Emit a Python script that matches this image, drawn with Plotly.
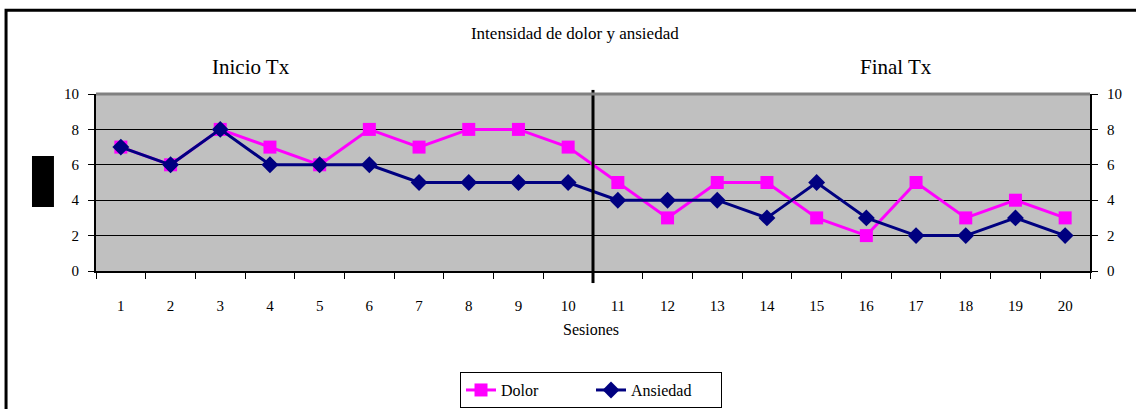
#!/usr/bin/env python3
"""Line chart of pain and anxiety intensity per session (Excel style)."""
import plotly.graph_objects as go

sesiones = [str(i) for i in range(1, 21)]
dolor = [7, 6, 8, 7, 6, 8, 7, 8, 8, 7, 5, 3, 5, 5, 3, 2, 5, 3, 4, 3]
ansiedad = [7, 6, 8, 6, 6, 6, 5, 5, 5, 5, 4, 4, 4, 3, 5, 3, 2, 2, 3, 2]
sesiones_inicio = 10
y_ticks = [0, 2, 4, 6, 8, 10]

SERIF = "Liberation Serif"


def main():
    n = len(sesiones)
    fig = go.Figure()

    fig.add_trace(go.Scatter(
        x=sesiones, y=dolor, name="Dolor", mode="lines+markers",
        line=dict(color="#FF00FF", width=3),
        marker=dict(symbol="square", size=13, color="#FF00FF"),
    ))
    fig.add_trace(go.Scatter(
        x=sesiones, y=ansiedad, name="Ansiedad", mode="lines+markers",
        line=dict(color="#000080", width=3),
        marker=dict(symbol="diamond", size=13, color="#000080"),
    ))
    # invisible trace so the right axis is drawn
    fig.add_trace(go.Scatter(
        x=sesiones, y=dolor, yaxis="y2", mode="lines",
        line=dict(width=0), hoverinfo="skip", showlegend=False, opacity=0,
    ))

    # division between "Inicio Tx" and "Final Tx"
    fig.add_shape(
        type="line", xref="x", yref="paper",
        x0=sesiones_inicio - 0.5, x1=sesiones_inicio - 0.5, y0=-0.068, y1=1.023,
        line=dict(color="black", width=3),
    )
    # top edge of the plot area
    fig.add_shape(
        type="line", xref="paper", yref="paper", x0=0, x1=1, y0=1, y1=1,
        line=dict(color="#808080", width=3),
    )
    # black block where the y axis title was
    fig.add_shape(
        type="rect", xref="paper", yref="paper",
        x0=-0.0644, x1=-0.0423, y0=0.362, y1=0.65,
        fillcolor="black", line=dict(width=0),
    )
    # outer chart border
    fig.add_shape(
        type="rect", xref="paper", yref="paper",
        x0=-0.0905, x1=1.06, y0=-0.85, y1=1.473,
        line=dict(color="black", width=3), fillcolor="rgba(0,0,0,0)",
    )

    fig.add_annotation(text="Inicio Tx", xref="paper", yref="paper",
                       x=0.156, y=1.153, xanchor="center", yanchor="middle",
                       showarrow=False,
                       font=dict(family=SERIF, size=21, color="black"))
    fig.add_annotation(text="Final Tx", xref="paper", yref="paper",
                       x=0.805, y=1.153, xanchor="center", yanchor="middle",
                       showarrow=False,
                       font=dict(family=SERIF, size=21, color="black"))
    fig.add_annotation(text="Sesiones", xref="paper", yref="paper",
                       x=0.498, y=-0.333, xanchor="center", yanchor="middle",
                       showarrow=False,
                       font=dict(family=SERIF, size=16, color="black"))

    axis_font = dict(family=SERIF, size=15, color="black")
    fig.update_layout(
        width=1136, height=409,
        margin=dict(l=96, r=46, t=94, b=138, autoexpand=False),
        paper_bgcolor="white", plot_bgcolor="#C0C0C0",
        title=dict(text="Intensidad de dolor y ansiedad", x=0.506, y=0.919,
                   xanchor="center", yanchor="middle",
                   font=dict(family=SERIF, size=17, color="black")),
        font=dict(family=SERIF, color="black"),
        xaxis=dict(
            type="category", range=[-0.5, n - 0.5], tickson="boundaries",
            ticks="outside", ticklen=6, tickcolor="black", showgrid=False,
            showline=True, linecolor="black", linewidth=2, tickfont=axis_font,
            ticklabelstandoff=20, zeroline=False, automargin=False,
        ),
        xaxis3=dict(
            overlaying="x", range=[0, n], tick0=0, dtick=1, ticks="inside",
            ticklen=5, tickcolor="black", showticklabels=False,
            showgrid=False, zeroline=False, showline=False, automargin=False,
        ),
        yaxis=dict(
            range=[0, 10], tickvals=y_ticks, ticks="outside", ticklen=6,
            tickcolor="black", showgrid=True, gridcolor="black", gridwidth=1,
            showline=True, linecolor="black", linewidth=2, zeroline=False,
            tickfont=axis_font, ticklabelstandoff=6, automargin=False,
        ),
        yaxis2=dict(
            overlaying="y", side="right", range=[0, 10], tickvals=y_ticks,
            ticks="outside", ticklen=6, tickcolor="black", showgrid=False,
            showline=True, linecolor="black", linewidth=2, zeroline=False,
            tickfont=axis_font, ticklabelstandoff=6, automargin=False,
        ),
        legend=dict(
            orientation="h", x=0.498, y=-0.571, xanchor="center", yanchor="top",
            bordercolor="black", borderwidth=1, bgcolor="white",
            font=dict(family=SERIF, size=16, color="black"),
            entrywidth=85,
        ),
        showlegend=True,
    )

    # drop the browser's default body margin so the figure sits at (0, 0)
    fig.write_html(
        "out.html",
        config={"displayModeBar": False},
        post_script="document.body.style.margin = '0';",
    )


if __name__ == "__main__":
    main()
